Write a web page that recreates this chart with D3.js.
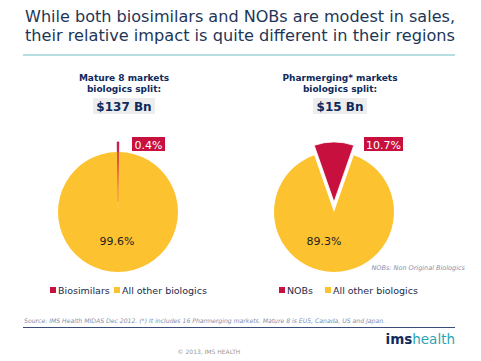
<!DOCTYPE html>
<html>
<head>
<meta charset="utf-8">
<script src="https://cdn.jsdelivr.net/npm/d3@7"></script>
<style>
  body { margin: 0; background: #fff; }
  text { font-family: "DejaVu Sans", Verdana, sans-serif; }
</style>
</head>
<body>
<div id="chart"></div>
<script>
const titleLines = ['While both biosimilars and NOBs are modest in sales,', 'their relative impact is quite different in their regions'];

const matureLabels = ['Biosimilars', 'All other biologics'];
const matureValues = [0.4, 99.6];
const matureHeader = ['Mature 8 markets', 'biologics split:'];
const matureTotal = '$137 Bn';

const pharmLabels = ['NOBs', 'All other biologics'];
const pharmValues = [10.7, 89.3];
const pharmHeader = ['Pharmerging* markets', 'biologics split:'];
const pharmTotal = '$15 Bn';

const colors = ['#c8103e', '#fdc22f'];
const navy = '#0e2a5c';

const width = 481, height = 361;
const svg = d3.select('#chart').append('svg').attr('width', width).attr('height', height);

// title
svg.append('g').selectAll('text').data(titleLines).join('text')
  .attr('x', 25).attr('y', (d, i) => 22 + i * 19)
  .attr('font-size', 16.5).attr('fill', '#1d3658')
  .attr('textLength', 430).attr('lengthAdjust', 'spacingAndGlyphs')
  .text(d => d);
svg.append('line').attr('x1', 23).attr('x2', 455).attr('y1', 55).attr('y2', 55)
  .attr('stroke', '#9fd3d6').attr('stroke-width', 1.5);

const radius = 60;
const explode = 10;

const drawPie = (cfg) => {
  const { cx, cy, values, labels, header, total, hx, smallBox, legendX } = cfg;
  const g = svg.append('g').attr('transform', `translate(${cx}, ${cy})`);
  const sum = d3.sum(values);
  const a = values[0] / sum * Math.PI * 2;
  const pie = d3.pie().sort(null).startAngle(-a / 2).endAngle(Math.PI * 2 - a / 2);
  const arcs = pie(values);
  const arc = d3.arc().innerRadius(0).outerRadius(radius);
  const thin = values[0] < 1;

  g.selectAll('path').data(arcs).join('path')
    .attr('d', arc)
    .attr('fill', (d, i) => colors[i])
    .attr('stroke', thin ? colors[0] : '#fff')
    .attr('stroke-width', (d, i) => i === 0 ? (thin ? 0.9 : 0.8) : 0)
    .attr('transform', (d, i) => {
      if (i !== 0) return null;
      const mid = (d.startAngle + d.endAngle) / 2;
      return `translate(${Math.sin(mid) * explode}, ${-Math.cos(mid) * explode})`;
    });

  // big slice percentage
  g.append('text').attr('x', -1 - (cx > 200 ? 9 : 0)).attr('y', 33)
    .attr('text-anchor', 'middle').attr('font-size', 11).attr('fill', '#222')
    .text(values[1].toFixed(1) + '%');

  // small slice label box
  const lab = values[0].toFixed(1) + '%';
  svg.append('rect').attr('x', smallBox[0]).attr('y', 137).attr('width', smallBox[1]).attr('height', 14)
    .attr('fill', colors[0]);
  svg.append('text').attr('x', smallBox[0] + smallBox[1] / 2).attr('y', 148.5)
    .attr('text-anchor', 'middle').attr('font-size', 11).attr('fill', '#fff').text(lab);

  // header
  svg.append('g').selectAll('text').data(header).join('text')
    .attr('x', hx).attr('y', (d, i) => 81 + i * 11)
    .attr('text-anchor', 'middle').attr('font-size', 9).attr('font-weight', 'bold').attr('fill', navy)
    .text(d => d);
  const tw = total.length * 8 + 6;
  svg.append('rect').attr('x', hx - tw / 2).attr('y', 98).attr('width', tw).attr('height', 16).attr('fill', '#ededed');
  svg.append('text').attr('x', hx).attr('y', 110.5).attr('text-anchor', 'middle')
    .attr('font-size', 12).attr('font-weight', 'bold').attr('fill', navy).text(total);

  // legend
  const lg = svg.append('g').attr('transform', `translate(${legendX[0]}, 293)`);
  labels.forEach((l, i) => {
    lg.append('rect').attr('x', legendX[i + 1]).attr('y', -6).attr('width', 6).attr('height', 6).attr('fill', colors[i]);
    lg.append('text').attr('x', legendX[i + 1] + 8).attr('y', 0.5).attr('font-size', 9.5).attr('fill', '#1b2a4a').text(l);
  });
};

drawPie({ cx: 118, cy: 212, values: matureValues, labels: matureLabels, header: matureHeader, total: matureTotal,
  hx: 124, smallBox: [132, 33], legendX: [50, 0, 64] });
drawPie({ cx: 334, cy: 212, values: pharmValues, labels: pharmLabels, header: pharmHeader, total: pharmTotal,
  hx: 340, smallBox: [364, 39], legendX: [279, 0, 46] });

svg.append('text').attr('x', 465).attr('y', 270).attr('text-anchor', 'end')
  .attr('font-size', 6.5).attr('font-style', 'italic').attr('fill', '#7f8fae')
  .text('NOBs: Non Original Biologics');

// source
svg.append('text').attr('x', 24).attr('y', 323)
  .attr('font-size', 6.2).attr('font-style', 'italic').attr('fill', '#8090b0')
  .attr('textLength', 361).attr('lengthAdjust', 'spacingAndGlyphs')
  .text('Source: IMS Health MIDAS Dec 2012. (*) It includes 16 Pharmerging markets. Mature 8 is EU5, Canada, US and Japan.');
svg.append('line').attr('x1', 23).attr('x2', 455).attr('y1', 327.5).attr('y2', 327.5)
  .attr('stroke', '#3a4d7a').attr('stroke-width', 1);

// logo
const logo = svg.append('text').attr('x', 455).attr('y', 344).attr('text-anchor', 'end').attr('font-size', 13.5);
logo.append('tspan').attr('font-weight', 'bold').attr('fill', '#0e2a5c').text('ims');
logo.append('tspan').attr('fill', '#2aa5b5').text('health');

svg.append('text').attr('x', 209).attr('y', 354).attr('text-anchor', 'middle')
  .attr('font-size', 6).attr('fill', '#999').text('© 2013, IMS HEALTH');
</script>
</body>
</html>
